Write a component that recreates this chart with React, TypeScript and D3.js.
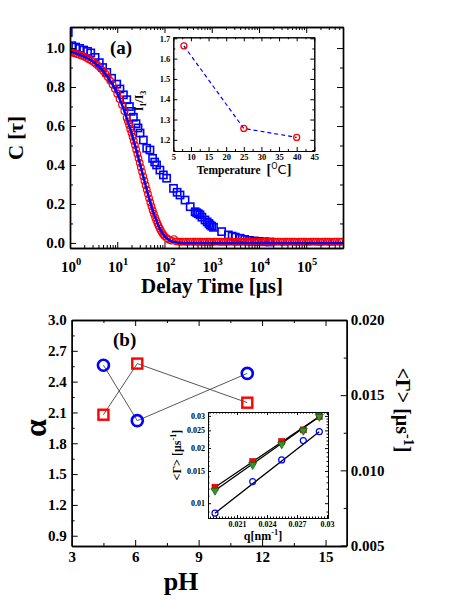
import { useEffect, useRef } from "react";
import * as d3 from "d3";

const FONT = "'Liberation Serif', 'Times New Roman', Times, serif";
const BLUE = "#0000ff";
const RED = "#ff0000";

// (a) correlation C(tau) vs delay time [us]
const redCircles: [number, number][] = [
  [1, 0.979], [1.12, 0.976], [1.26, 0.973], [1.41, 0.969], [1.58, 0.965], [1.78, 0.961],
  [2.0, 0.956], [2.24, 0.95], [2.51, 0.943], [2.82, 0.936], [3.16, 0.928], [3.55, 0.918],
  [3.98, 0.908], [4.47, 0.896], [5.01, 0.883], [5.62, 0.868], [6.31, 0.851], [7.08, 0.833],
  [7.94, 0.813], [8.91, 0.791], [10, 0.766], [11.2, 0.739], [12.6, 0.709], [14.1, 0.677],
  [15.8, 0.642], [16.8, 0.624], [17.8, 0.605], [18.8, 0.585], [20, 0.565], [21.1, 0.545],
  [22.4, 0.524], [23.7, 0.502], [25.1, 0.48], [26.6, 0.457], [28.2, 0.434], [29.9, 0.411],
  [31.6, 0.388], [33.5, 0.365], [35.5, 0.342], [37.6, 0.319], [39.8, 0.296], [42.2, 0.273],
  [44.7, 0.251], [47.3, 0.229], [50.1, 0.208], [53.1, 0.188], [56.2, 0.168], [59.6, 0.15],
  [63.1, 0.132], [66.8, 0.116], [70.8, 0.101], [75, 0.087], [79.4, 0.074], [84.1, 0.063],
  [89.1, 0.052], [94.4, 0.043], [100, 0.035], [112, 0.024], [126, 0.016], [141, 0.012],
  [158, 0.02], [178, 0.008], [200, 0.007], [224, 0.006], [251, 0.007], [282, 0.006],
  [316, 0.006], [355, 0.007], [398, 0.006], [447, 0.006], [501, 0.007], [562, 0.006],
  [631, 0.006], [708, 0.005], [794, 0.006], [891, 0.006], [1000, 0.005], [1122, 0.006],
  [1259, 0.007], [1413, 0.006], [1585, 0.006], [1778, 0.005], [1995, 0.006], [2239, 0.006],
  [2512, 0.007], [2818, 0.006], [3162, 0.005], [3548, 0.006], [3981, 0.006], [4467, 0.007],
  [5012, 0.006], [5623, 0.005], [6310, 0.006], [7079, 0.006], [7943, 0.007], [8913, 0.006],
  [10000, 0.005], [11220, 0.006], [12590, 0.006], [14130, 0.007], [15850, 0.006], [17780, 0.005],
  [19950, 0.006], [22390, 0.006], [25120, 0.007], [28180, 0.006], [31620, 0.005], [35480, 0.006],
  [39810, 0.006], [44670, 0.007], [50120, 0.006], [56230, 0.006], [63100, 0.005], [70790, 0.006],
  [79430, 0.007], [89130, 0.006], [100000, 0.006], [112200, 0.005], [125900, 0.006], [141300, 0.007],
  [158500, 0.006], [177800, 0.006], [199500, 0.005], [223900, 0.006], [251200, 0.007], [281800, 0.006],
  [316200, 0.006], [354800, 0.005], [398100, 0.006], [446700, 0.007], [501200, 0.006], [562300, 0.006],
];

const blueSquares: [number, number][] = [
  [0.92, 1.08], [1.09, 1.012], [1.32, 1.005], [1.6, 0.998], [1.95, 0.99], [2.35, 0.983],
  [2.75, 0.975], [3.4, 0.952], [4.17, 0.925], [4.9, 0.9], [6.0, 0.875], [7.6, 0.845],
  [9.75, 0.815], [11.4, 0.79], [13.5, 0.76], [15.9, 0.735], [18.1, 0.7], [19.6, 0.675],
  [22, 0.645], [25, 0.612], [27.5, 0.59], [30.4, 0.564], [35.7, 0.528], [42, 0.486],
  [49.3, 0.477], [56, 0.434], [62, 0.415], [68, 0.4], [80, 0.374], [94.6, 0.349],
  [111, 0.332], [155, 0.28], [185, 0.26], [213, 0.246], [272, 0.22], [350, 0.186],
  [445, 0.16], [480, 0.155], [520, 0.15], [565, 0.144], [620, 0.132], [720, 0.118],
  [800, 0.108], [870, 0.1], [925, 0.092], [1000, 0.086], [1090, 0.08], [1620, 0.058],
  [2250, 0.041], [2700, 0.035], [3140, 0.03], [3990, 0.024], [5000, 0.018], [6300, 0.013],
  [8000, 0.01], [10000, 0.008], [13000, 0.006], [17000, 0.005],
];

const fitCurve: [number, number][] = [
  [1, 0.982], [1.58, 0.966], [2.51, 0.944], [3.98, 0.908], [6.31, 0.851], [10, 0.766],
  [12.6, 0.709], [15.8, 0.642], [20, 0.565], [25.1, 0.48], [31.6, 0.388], [39.8, 0.296],
  [50.1, 0.208], [63.1, 0.132], [79.4, 0.074], [100, 0.035], [126, 0.014], [158, 0.005],
  [200, 0.001], [316, 0], [1000, 0], [10000, 0], [100000, 0], [600000, 0],
];

const delayTicks = [1, 10, 100, 1000, 10000, 100000];
const corrTicks = [0, 0.2, 0.4, 0.6, 0.8, 1.0];

// (a) inset: I1/I3 vs temperature
const temperature = [8, 25, 40];
const ratioI1I3 = [1.663, 1.256, 1.212];
const temperatureTicks = [5, 10, 15, 20, 25, 30, 35, 40, 45];
const ratioTicks = [1.2, 1.3, 1.4, 1.5, 1.6, 1.7];

// (b) alpha and <Gamma> vs pH
const pH = [4.5, 6.1, 11.3];
const alpha = [2.56, 2.02, 2.48];
const meanGamma = [0.0137, 0.0171, 0.0145];
const pHTicks = [3, 6, 9, 12, 15];
const alphaTicks = [0.9, 1.2, 1.5, 1.8, 2.1, 2.4, 2.7, 3.0];
const gammaTicks = [0.005, 0.01, 0.015, 0.02];

// (b) inset: <Gamma> vs q
const qValues = [0.0188, 0.02257, 0.02547, 0.02763, 0.02923];
const gammaCircles = [0.00882, 0.01312, 0.01724, 0.022, 0.0246];
const gammaSquares = [0.01223, 0.01687, 0.02171, 0.02515, 0.02974];
const gammaTriangles = [0.01172, 0.01619, 0.021, 0.02493, 0.0297];
const qTicks = [0.021, 0.024, 0.027, 0.03];
const qGammaTicks = [0.01, 0.015, 0.02, 0.025, 0.03];

const styleAxis = (g: any, size: number, width: number) => {
  g.selectAll(".domain").attr("stroke", "#000").attr("stroke-width", width);
  g.selectAll(".tick line").attr("stroke", "#000").attr("stroke-width", 1);
  g.selectAll(".tick text")
    .attr("fill", "#000")
    .attr("font-family", FONT)
    .attr("font-weight", "bold")
    .attr("font-size", size);
};

// box with inward ticks on four sides
const frame = (root: any, x: any, y: any, o: any) => {
  const [xl, xr] = x.range();
  const [yb, yt] = y.range();
  const sides = [
    { make: d3.axisBottom, scale: x, at: `translate(0,${yb})`, major: o.xMajor, minor: o.xMinor, fmt: o.xFmt },
    { make: d3.axisTop, scale: x, at: `translate(0,${yt})`, major: o.xMajor, minor: o.xMinor, fmt: null },
    { make: d3.axisLeft, scale: y, at: `translate(${xl},0)`, major: o.yMajor, minor: o.yMinor, fmt: o.yFmt },
    { make: d3.axisRight, scale: y, at: `translate(${xr},0)`, major: o.yMajor, minor: o.yMinor, fmt: null, skip: o.noRight },
  ];
  sides.forEach((s) => {
    if (s.skip) return;
    const g = root.append("g").attr("transform", s.at);
    g.append("g").call(
      s.make(s.scale).tickValues(s.minor).tickSize(-o.minorLen).tickSizeOuter(0).tickFormat(() => "")
    );
    g.append("g").call(
      s.make(s.scale)
        .tickValues(s.major)
        .tickSize(-o.majorLen)
        .tickSizeOuter(0)
        .tickPadding(o.pad)
        .tickFormat(s.fmt || (() => ""))
    );
    styleAxis(g, o.font, o.width);
  });
};

const superText = (root: any, x: number, y: number, size: number, parts: [string, number][], rotate = 0) => {
  const t = root
    .append("text")
    .attr("transform", `translate(${x},${y}) rotate(${rotate})`)
    .attr("text-anchor", "middle")
    .attr("font-family", FONT)
    .attr("font-weight", "bold")
    .attr("font-size", size);
  let shift = 0;
  parts.forEach(([str, lift]) => {
    const sp = t.append("tspan").text(str).attr("dy", shift - lift);
    if (lift !== 0) sp.attr("font-size", size * 0.7);
    shift = lift;
  });
  return t;
};

const drawPanelA = (svg: any) => {
  const x = d3.scaleLog().domain([1, 6e5]).range([70, 343]);
  const y = d3.scaleLinear().domain([-0.026, 1.108]).range([248, 27]);

  svg.append("clipPath").attr("id", "clipA")
    .append("rect").attr("x", 70).attr("y", 27).attr("width", 273).attr("height", 221);

  const minorX: number[] = [];
  delayTicks.forEach((d) => d3.range(2, 10).forEach((m) => d * m <= 6e5 && minorX.push(d * m)));

  const data = svg.append("g").attr("clip-path", "url(#clipA)");
  data.selectAll("rect")
    .data(blueSquares)
    .join("rect")
    .attr("x", (d: any) => x(d[0]) - 3.6)
    .attr("y", (d: any) => y(d[1]) - 3.6)
    .attr("width", 7.2)
    .attr("height", 7.2)
    .attr("fill", "none")
    .attr("stroke", BLUE)
    .attr("stroke-width", 1.6);
  data.selectAll("circle")
    .data(redCircles)
    .join("circle")
    .attr("cx", (d: any) => x(d[0]))
    .attr("cy", (d: any) => y(d[1]))
    .attr("r", 3.3)
    .attr("fill", "none")
    .attr("stroke", RED)
    .attr("stroke-width", 1.2);
  data.append("path")
    .datum(fitCurve)
    .attr("fill", "none")
    .attr("stroke", BLUE)
    .attr("stroke-width", 2.4)
    .attr("d", d3.line().x((d: any) => x(d[0])).y((d: any) => y(d[1])).curve(d3.curveMonotoneX));

  frame(svg, x, y, {
    xMajor: delayTicks, xMinor: minorX, xFmt: null,
    yMajor: corrTicks, yMinor: [0.1, 0.3, 0.5, 0.7, 0.9], yFmt: d3.format(".1f"),
    majorLen: 6, minorLen: 3, pad: 5, font: 15, width: 1.4,
  });

  delayTicks.forEach((d) => {
    superText(svg, x(d) + 1, 272, 15, [["10", 0], [String(Math.round(Math.log10(d))), 7]]);
  });

  superText(svg, 212, 293, 21, [["Delay Time [μs]", 0]]);
  superText(svg, 23, 138, 21, [["C [τ]", 0]], -90);
  svg.append("text").attr("x", 110).attr("y", 54).attr("font-family", FONT)
    .attr("font-weight", "bold").attr("font-size", 19).text("(a)");

  // inset
  const xi = d3.scaleLinear().domain([5, 45]).range([173.3, 314.3]);
  const yi = d3.scaleLinear().domain([1.145, 1.705]).range([151, 37.3]);
  svg.append("rect").attr("x", 173.3).attr("y", 37.3).attr("width", 141).attr("height", 113.7).attr("fill", "#fff");
  frame(svg, xi, yi, {
    xMajor: temperatureTicks, xMinor: d3.range(7.5, 45, 5), xFmt: (d: any) => String(d),
    yMajor: ratioTicks, yMinor: [1.15, 1.25, 1.35, 1.45, 1.55, 1.65], yFmt: d3.format(".1f"),
    majorLen: 4, minorLen: 2, pad: 3, font: 8.5, width: 1,
  });
  const pts = temperature.map((t, i) => [t, ratioI1I3[i]]);
  svg.append("path")
    .datum(pts)
    .attr("fill", "none")
    .attr("stroke", BLUE)
    .attr("stroke-width", 1.2)
    .attr("stroke-dasharray", "4,3")
    .attr("d", d3.line().x((d: any) => xi(d[0])).y((d: any) => yi(d[1])));
  svg.append("g").selectAll("circle")
    .data(pts)
    .join("circle")
    .attr("cx", (d: any) => xi(d[0]))
    .attr("cy", (d: any) => yi(d[1]))
    .attr("r", 3)
    .attr("fill", "none")
    .attr("stroke", RED)
    .attr("stroke-width", 1.3);

  const lab = svg.append("text").attr("transform", "translate(143,101) rotate(-90)")
    .attr("text-anchor", "middle").attr("font-family", FONT).attr("font-weight", "bold").attr("font-size", 12);
  lab.append("tspan").text("I");
  lab.append("tspan").attr("font-size", 8).attr("dy", 3).text("1");
  lab.append("tspan").attr("dy", -3).text("/I");
  lab.append("tspan").attr("font-size", 8).attr("dy", 3).text("3");

  const tl = svg.append("text").attr("x", 244).attr("y", 174).attr("text-anchor", "middle")
    .attr("font-family", FONT).attr("font-weight", "bold").attr("font-size", 11.5);
  tl.append("tspan").text("Temperature");
  tl.append("tspan").attr("dx", 6).attr("font-size", 14).text("[");
  tl.append("tspan").attr("font-size", 8).attr("dy", -5).attr("font-family", "DejaVu Sans").attr("font-weight", "normal").text("O");
  tl.append("tspan").attr("dy", 5).attr("font-size", 13).attr("font-family", "DejaVu Sans").attr("font-weight", "normal").text("C");
  tl.append("tspan").attr("font-size", 14).text("]");
};

const drawPanelB = (svg: any) => {
  const x = d3.scaleLinear().domain([3, 16]).range([71.7, 346.7]);
  const y = d3.scaleLinear().domain([0.8, 3.0]).range([546, 320]);
  const yr = d3.scaleLinear().domain([0.005, 0.02]).range([545.5, 320]);

  const alphaPts = pH.map((p, i) => [p, alpha[i]]);
  const gammaPts = pH.map((p, i) => [p, meanGamma[i]]);

  svg.append("path").datum(alphaPts).attr("fill", "none").attr("stroke", "#444").attr("stroke-width", 0.9)
    .attr("d", d3.line().x((d: any) => x(d[0])).y((d: any) => y(d[1])));
  svg.append("path").datum(gammaPts).attr("fill", "none").attr("stroke", "#444").attr("stroke-width", 0.9)
    .attr("d", d3.line().x((d: any) => x(d[0])).y((d: any) => yr(d[1])));

  svg.append("g").selectAll("circle").data(alphaPts).join("circle")
    .attr("cx", (d: any) => x(d[0])).attr("cy", (d: any) => y(d[1])).attr("r", 5.5)
    .attr("fill", "none").attr("stroke", BLUE).attr("stroke-width", 2.6);
  svg.append("g").selectAll("rect").data(gammaPts).join("rect")
    .attr("x", (d: any) => x(d[0]) - 5).attr("y", (d: any) => yr(d[1]) - 5)
    .attr("width", 10).attr("height", 10)
    .attr("fill", "none").attr("stroke", RED).attr("stroke-width", 2.4);

  frame(svg, x, y, {
    xMajor: pHTicks, xMinor: [4.5, 7.5, 10.5, 13.5], xFmt: (d: any) => String(d),
    yMajor: alphaTicks, yMinor: [1.05, 1.35, 1.65, 1.95, 2.25, 2.55, 2.85], yFmt: d3.format(".1f"),
    majorLen: 6, minorLen: 3, pad: 5, font: 15, width: 1.4, noRight: true,
  });

  const gr = svg.append("g").attr("transform", `translate(${x.range()[1]},0)`);
  gr.append("g").call(d3.axisRight(yr).tickValues([0.0075, 0.0125, 0.0175]).tickSize(-3).tickSizeOuter(0).tickFormat(() => ""));
  gr.append("g").call(d3.axisRight(yr).tickValues(gammaTicks).tickSize(-6).tickSizeOuter(0).tickPadding(4).tickFormat(d3.format(".3f")));
  styleAxis(gr, 15, 1.4);

  svg.append("text").attr("x", 113).attr("y", 346).attr("font-family", FONT)
    .attr("font-weight", "bold").attr("font-size", 19).text("(b)");
  superText(svg, 181, 590, 26, [["pH", 0]]);
  superText(svg, 46, 428, 32, [["α", 0]], -90);
  superText(svg, 396, 410, 20, [["<Γ> [μs", 0], ["-1", 8], ["]", 0]], 90);

  // inset
  const xq = d3.scaleLinear().domain([0.0181, 0.0301]).range([208, 328]);
  const yq = d3.scaleLog().domain([0.0083, 0.0315]).range([518, 412]);
  svg.append("rect").attr("x", 208).attr("y", 412).attr("width", 120).attr("height", 106).attr("fill", "#fff");

  const series = [
    { vals: gammaCircles, kind: "circle" },
    { vals: gammaSquares, kind: "square" },
    { vals: gammaTriangles, kind: "triangle" },
  ];
  series.forEach((s) => {
    const pts = qValues.map((q, i) => [q, s.vals[i]]);
    const ends = [pts[0], pts[pts.length - 1]];
    svg.append("path").datum(ends).attr("fill", "none").attr("stroke", "#000").attr("stroke-width", 1.3)
      .attr("d", d3.line().x((d: any) => xq(d[0])).y((d: any) => yq(d[1])));
  });
  series.forEach((s) => {
    const pts = qValues.map((q, i) => [q, s.vals[i]]);
    const g = svg.append("g");
    if (s.kind === "circle") {
      g.selectAll("circle").data(pts).join("circle")
        .attr("cx", (d: any) => xq(d[0])).attr("cy", (d: any) => yq(d[1])).attr("r", 3)
        .attr("fill", "none").attr("stroke", BLUE).attr("stroke-width", 1.2);
    } else if (s.kind === "square") {
      g.selectAll("rect").data(pts).join("rect")
        .attr("x", (d: any) => xq(d[0]) - 3).attr("y", (d: any) => yq(d[1]) - 3)
        .attr("width", 6).attr("height", 6).attr("fill", RED).attr("stroke", "#b00000").attr("stroke-width", 0.6);
    } else {
      g.selectAll("path").data(pts).join("path")
        .attr("transform", (d: any) => `translate(${xq(d[0])},${yq(d[1])}) rotate(180)`)
        .attr("d", d3.symbol(d3.symbolTriangle, 28)())
        .attr("fill", "#2a9a2a").attr("stroke", "#0b5b0b").attr("stroke-width", 0.7);
    }
  });

  const minorGamma = d3.range(0.009, 0.0315, 0.001).filter((v) => !qGammaTicks.some((t) => Math.abs(t - v) < 1e-6));
  const minorQ = d3.range(0.0183, 0.0301, 0.0003).filter((v) => !qTicks.some((t) => Math.abs(t - v) < 1e-6));
  frame(svg, xq, yq, {
    xMajor: qTicks, xMinor: minorQ, xFmt: (d: any) => String(d),
    yMajor: qGammaTicks, yMinor: minorGamma, yFmt: (d: any) => String(d),
    majorLen: 3, minorLen: 1.5, pad: 3, font: 8, width: 1,
  });

  superText(svg, 181, 455, 12, [["<Γ> [μs", 0], ["-1", 5], ["]", 0]], -90);
  superText(svg, 263, 540, 12, [["q[nm", 0], ["-1", 5], ["]", 0]]);
};

const App = () => {
  const ref = useRef<SVGSVGElement>(null);

  useEffect(() => {
    const svg = d3.select(ref.current);
    svg.selectAll("*").remove();
    drawPanelA(svg);
    drawPanelB(svg);
  }, []);

  return (
    <svg
      ref={ref}
      width={450}
      height={615}
      style={{ position: "absolute", left: 0, top: 0, background: "#fff" }}
    />
  );
};

export default App;
